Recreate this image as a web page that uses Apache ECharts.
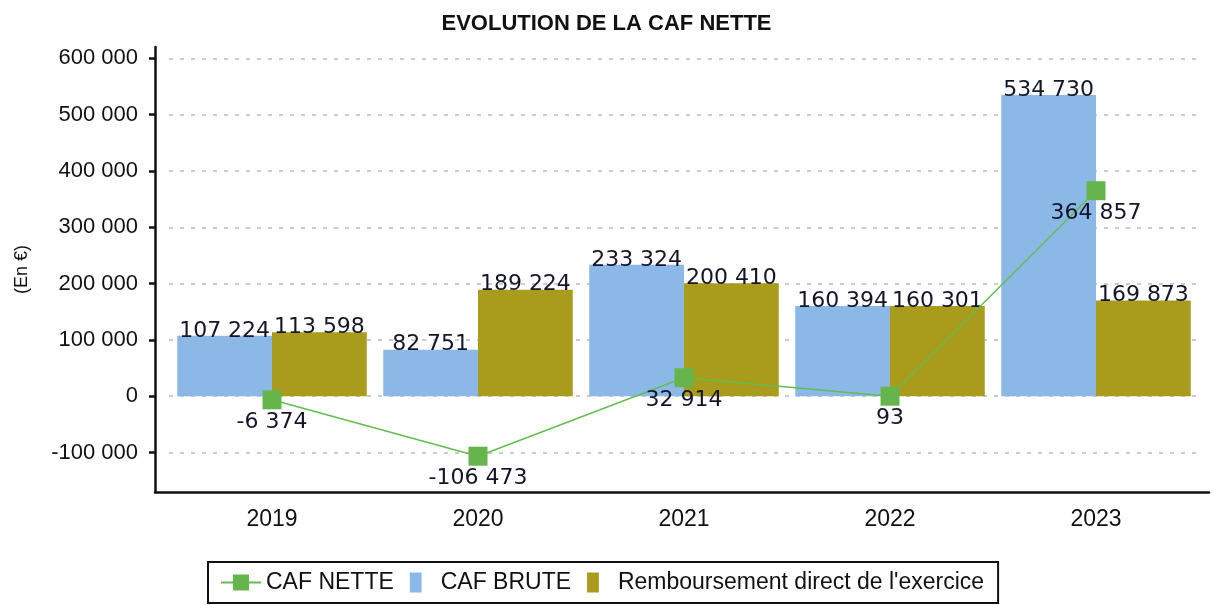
<!DOCTYPE html>
<html>
<head>
<meta charset="utf-8">
<script src="https://cdn.jsdelivr.net/npm/echarts@6/dist/echarts.min.js"></script>
<style>
  html, body { margin: 0; padding: 0; background: #fff; }
  #main { width: 1213px; height: 605px; }
</style>
</head>
<body>
<div id="main"></div>
<script>
var years = ['2019', '2020', '2021', '2022', '2023']
var cafNette = [-6374, -106473, 32914, 93, 364857]
var cafBrute = [107224, 82751, 233324, 160394, 534730]
var remboursement = [113598, 189224, 200410, 160301, 169873]
var yTicks = [-100000, 0, 100000, 200000, 300000, 400000, 500000, 600000]

function fr (v) {
  var s = String(Math.abs(Math.round(v))).replace(/\B(?=(\d{3})+(?!\d))/g, ' ')
  return (v < 0 ? '-' : '') + s
}

var chart = echarts.init(document.getElementById('main'))

var labelFont = { fontFamily: 'DejaVu Sans', fontSize: 22, color: '#15152a' }
var squareIcon = 'path://M0,0 L13,0 L13,22 L0,22 Z'

var option = {
  animation: false,
  backgroundColor: '#fff',
  title: {
    text: 'EVOLUTION DE LA CAF NETTE',
    left: 'center',
    top: 8,
    textStyle: { fontFamily: 'Liberation Sans', fontWeight: 'bold', fontSize: 22, color: '#111' }
  },
  legend: {
    left: 208,
    top: 562,
    padding: [9, 14, 9, 12],
    borderColor: '#111',
    borderWidth: 2,
    itemWidth: 40,
    itemHeight: 20,
    itemGap: 16,
    textStyle: { fontFamily: 'Liberation Sans', fontSize: 23, color: '#111' },
    data: [
      { name: 'CAF NETTE' },
      { name: 'CAF BRUTE', icon: squareIcon },
      { name: "Remboursement direct de l'exercice", icon: squareIcon }
    ]
  },
  grid: [
    { left: 169, right: 14, top: 47, bottom: 113 },
    // frame grid: carries the bottom axis line across to the y axis
    { left: 155, right: 4, top: 47, bottom: 113 }
  ],
  xAxis: [
    {
      type: 'category',
      data: years,
      axisLine: { show: false },
      axisTick: { show: false },
      axisLabel: { margin: 16, fontFamily: 'Liberation Sans', fontSize: 23, color: '#111' }
    },
    {
      type: 'value',
      gridIndex: 1,
      min: 0,
      max: 1,
      axisLine: { show: true, onZero: false, lineStyle: { color: '#111', width: 2.5 } },
      axisTick: { show: false },
      axisLabel: { show: false },
      splitLine: { show: false }
    }
  ],
  yAxis: [
    {
      type: 'value',
      min: -170000,
      max: 620000,
      offset: 14,
      name: '(En €)',
      nameLocation: 'middle',
      nameGap: 124,
      nameTextStyle: { fontFamily: 'Liberation Sans', fontSize: 18, color: '#111' },
      axisLine: { show: true, lineStyle: { color: '#111', width: 2.5 } },
      axisTick: { show: true, length: 6, customValues: yTicks, lineStyle: { color: '#111', width: 2.5 } },
      axisLabel: {
        customValues: yTicks,
        margin: 17,
        fontFamily: 'Liberation Sans',
        fontSize: 22,
        color: '#111',
        formatter: fr
      },
      splitLine: { show: true, lineStyle: { color: '#bcbcbc', type: [4, 7], width: 1.5 } }
    },
    {
      type: 'value',
      gridIndex: 1,
      min: 0,
      max: 1,
      show: false
    }
  ],
  series: [
    {
      name: 'CAF BRUTE',
      type: 'bar',
      data: cafBrute,
      barGap: '0%',
      barCategoryGap: '8%',
      itemStyle: { color: '#8cb8e8' },
      label: Object.assign({ show: true, position: 'top', distance: -6, formatter: function (p) { return fr(p.value) } }, labelFont)
    },
    {
      name: "Remboursement direct de l'exercice",
      type: 'bar',
      data: remboursement,
      itemStyle: { color: '#a99c1c' },
      label: Object.assign({ show: true, position: 'top', distance: -6, formatter: function (p) { return fr(p.value) } }, labelFont)
    },
    {
      name: 'CAF NETTE',
      type: 'line',
      data: cafNette,
      z: 5,
      symbol: 'rect',
      symbolSize: 19,
      lineStyle: { color: '#62be4e', width: 1.5 },
      itemStyle: { color: '#66b44c' },
      label: Object.assign({ show: true, position: 'bottom', distance: 2, formatter: function (p) { return fr(p.value) } }, labelFont)
    }
  ]
}

option && chart.setOption(option)
</script>
</body>
</html>
